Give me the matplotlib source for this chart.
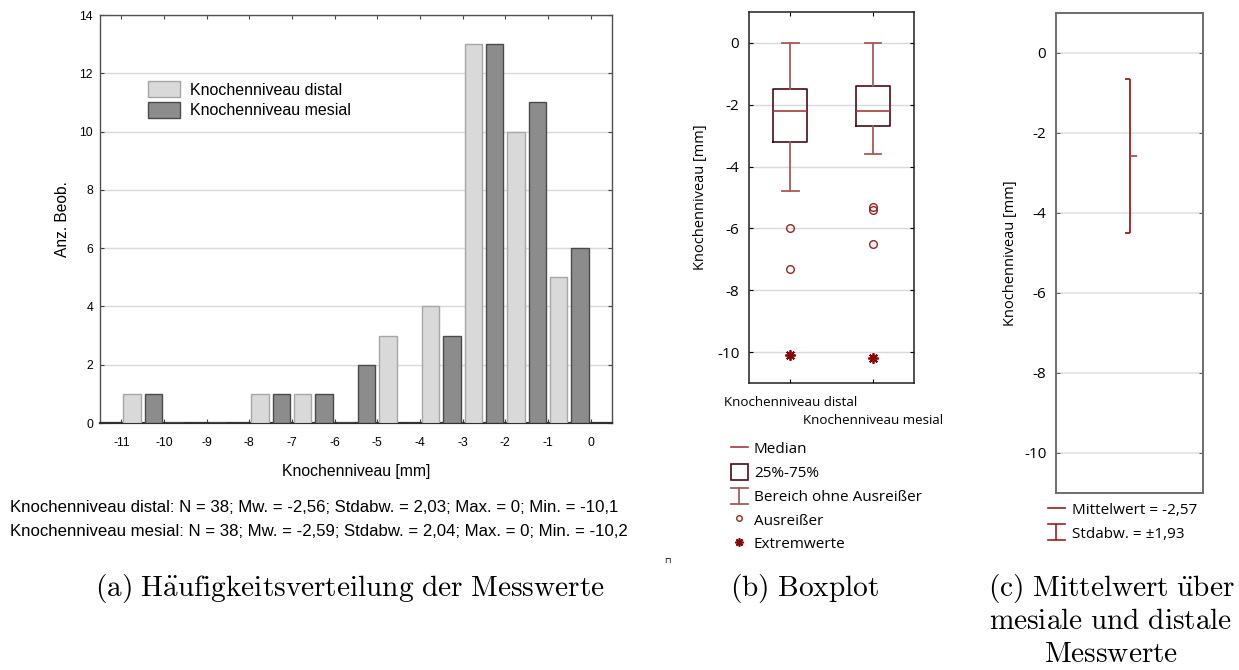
import numpy as np
import matplotlib
matplotlib.use("Agg")
import matplotlib.pyplot as plt
from matplotlib.lines import Line2D
from matplotlib.patches import Rectangle
from matplotlib.legend_handler import HandlerBase

plt.rcParams["axes.unicode_minus"] = False
plt.rcParams["mathtext.fontset"] = "cm"

# ---------------- data ----------------
# frequency distribution (bins [k, k+1) in mm)
bin_left = [-11, -10, -9, -8, -7, -6, -5, -4, -3, -2, -1]
count_distal = [1, 0, 0, 1, 1, 0, 3, 4, 13, 10, 5]
count_mesial = [1, 0, 0, 1, 1, 2, 0, 3, 13, 11, 6]
hist_xticks = [-11, -10, -9, -8, -7, -6, -5, -4, -3, -2, -1, 0]
hist_yticks = [0, 2, 4, 6, 8, 10, 12, 14]
series_names = ["Knochenniveau distal", "Knochenniveau mesial"]
summary_lines = [
    "Knochenniveau distal: N = 38; Mw. = -2,56; Stdabw. = 2,03; Max. = 0; Min. = -10,1",
    "Knochenniveau mesial: N = 38; Mw. = -2,59; Stdabw. = 2,04; Max. = 0; Min. = -10,2",
]

# boxplot summary
box_q1 = [-3.2, -2.7]
box_median = [-2.2, -2.2]
box_q3 = [-1.5, -1.4]
whisker_low = [-4.8, -3.6]
whisker_high = [0.0, 0.0]
outlier_values = [[-6.0, -7.3], [-5.3, -5.4, -6.5]]
extreme_values = [[-10.1], [-10.2]]
level_yticks = [0, -2, -4, -6, -8, -10]

# pooled mean and standard deviation
mean_all = -2.57
sd_all = 1.93

# ---------------- layout helpers ----------------
W, H = 1239, 670
fig = plt.figure(figsize=(W / 100, H / 100), dpi=100)


def px_rect(l, t, r, b):
    return [l / W, 1 - b / H, (r - l) / W, (b - t) / H]


SANS_A = "Liberation Sans"
SANS_B = "Open Sans"
RED_DARK = "#4b0b12"
RED_WHISK = "#a85a5a"
RED_MED = "#a03c3c"
RED_PT = "#9b2020"
RED_EXT = "#8b0000"


class WhiskerKey:
    def __init__(self, color, lw=1.2):
        self.color = color
        self.lw = lw


class WhiskerHandler(HandlerBase):
    def create_artists(self, legend, orig_handle, xdescent, ydescent,
                       width, height, fontsize, trans):
        x0, x1 = -xdescent, width - xdescent
        y0, y1 = -ydescent, height - ydescent
        xm = 0.5 * (x0 + x1)
        kw = dict(color=orig_handle.color, lw=orig_handle.lw, transform=trans)
        return [Line2D([x0, x1], [y1, y1], **kw),
                Line2D([x0, x1], [y0, y0], **kw),
                Line2D([xm, xm], [y0, y1], **kw)]


# ---------------- (a) histogram ----------------
axa = fig.add_axes(px_rect(100, 15, 612, 423))
left = np.array(bin_left, dtype=float)
axa.bar(left + 0.25, count_distal, width=0.4, color="#d9d9d9",
        edgecolor="#a6a6a6", linewidth=1.0, zorder=3, label=series_names[0])
axa.bar(left + 0.75, count_mesial, width=0.4, color="#8c8c8c",
        edgecolor="#4a4a4a", linewidth=1.0, zorder=3, label=series_names[1])
axa.set_xlim(-11.5, 0.5)
axa.set_ylim(0, 14)
axa.set_xticks(hist_xticks)
axa.set_xticklabels([str(v) for v in hist_xticks])
axa.set_yticks(hist_yticks)
axa.set_yticklabels([str(v) for v in hist_yticks])
axa.yaxis.grid(True, color="#d9d9d9", lw=1.0, zorder=0)
axa.set_axisbelow(True)
axa.tick_params(direction="in", top=True, right=True, length=3, width=0.8,
                color="#404040", labelsize=8.8)
axa.tick_params(axis="x", pad=10)
axa.tick_params(axis="y", pad=5)
for lab in axa.get_xticklabels() + axa.get_yticklabels():
    lab.set_family(SANS_A)
for side, sp in axa.spines.items():
    sp.set_color("#505050")
    sp.set_linewidth(1.0)
axa.spines["bottom"].set_color("#303030")
axa.spines["bottom"].set_linewidth(1.6)
axa.set_xlabel("Knochenniveau [mm]", family=SANS_A, fontsize=11.3)
axa.xaxis.set_label_coords(0.5, -(464 - 423) / 408)
axa.set_ylabel("Anz. Beob.", family=SANS_A, fontsize=11.2)
axa.yaxis.set_label_coords((70 - 100) / 512, 0.5)
axa.legend(loc="upper left", bbox_to_anchor=(148 / W, 1 - 81 / H),
           bbox_transform=fig.transFigure, frameon=False,
           prop=dict(family=SANS_A, size=11.5), handlelength=2.0,
           handleheight=1.2, handletextpad=0.6, labelspacing=0.25,
           borderpad=0, borderaxespad=0)
for i, line in enumerate(summary_lines):
    fig.text(10 / W, 1 - (508 + 23 * i) / H, line, family=SANS_A,
             fontsize=12.1, ha="left", va="center")

# ---------------- (b) boxplot ----------------
axb = fig.add_axes(px_rect(749, 12, 914, 383))
box_stats = []
for i in range(len(box_median)):
    box_stats.append(dict(med=box_median[i], q1=box_q1[i], q3=box_q3[i],
                          whislo=whisker_low[i], whishi=whisker_high[i],
                          fliers=[]))
positions = list(range(len(box_stats)))
axb.bxp(box_stats, positions=positions, widths=0.41, capwidths=0.2,
        showfliers=False,
        boxprops=dict(color=RED_DARK, lw=1.2),
        whiskerprops=dict(color=RED_WHISK, lw=1.3),
        capprops=dict(color=RED_WHISK, lw=1.3),
        medianprops=dict(color=RED_MED, lw=1.2))
for i, vals in enumerate(outlier_values):
    axb.plot([positions[i]] * len(vals), vals, linestyle="none", marker="o",
             mfc="none", mec=RED_PT, ms=5.5, mew=1.0, zorder=4)
for i, vals in enumerate(extreme_values):
    axb.plot([positions[i]] * len(vals), vals, linestyle="none",
             marker=(8, 2, 0), color=RED_EXT, ms=7.5, mew=1.3, zorder=4)
axb.set_xlim(-0.5, 1.5)
axb.set_ylim(-11, 1)
axb.set_yticks(level_yticks)
axb.set_yticklabels([str(v) for v in level_yticks])
axb.set_xticks(positions)
axb.set_xticklabels([])
axb.yaxis.grid(True, color="#d9d9d9", lw=1.0)
axb.set_axisbelow(True)
axb.tick_params(direction="in", top=True, right=True, length=3, width=0.8,
                labelsize=11, pad=7)
for lab in axb.get_yticklabels():
    lab.set_family(SANS_B)
for sp in axb.spines.values():
    sp.set_color("#202020")
    sp.set_linewidth(1.1)
axb.set_ylabel("Knochenniveau [mm]", family=SANS_B, fontsize=10.5)
axb.yaxis.set_label_coords((708 - 749) / 165, 0.5)
for i, name in enumerate(series_names):
    axb.text(positions[i], -(19 + 19 * i) / 371, name,
             transform=axb.get_xaxis_transform(), ha="center", va="center",
             family=SANS_B, fontsize=9.6)

b_handles = [
    Line2D([], [], color=RED_MED, lw=1.2),
    Rectangle((0, 0), 1, 1, facecolor="white", edgecolor=RED_DARK, lw=1.2),
    WhiskerKey(RED_WHISK, 1.3),
    Line2D([], [], linestyle="none", marker="o", mfc="none", mec=RED_PT,
           ms=4, mew=1.0),
    Line2D([], [], linestyle="none", marker=(8, 2, 0), color=RED_EXT,
           ms=6, mew=1.2),
]
b_labels = ["Median", "25%-75%", "Bereich ohne Ausreißer", "Ausreißer",
            "Extremwerte"]
fig.legend(b_handles, b_labels, loc="upper left",
           bbox_to_anchor=(731 / W, 1 - 440 / H),
           bbox_transform=fig.transFigure, frameon=False,
           prop=dict(family=SANS_B, size=11), handlelength=1.1,
           handleheight=1.25, handletextpad=0.4, labelspacing=0.43,
           borderpad=0, borderaxespad=0,
           handler_map={WhiskerKey: WhiskerHandler()})

# ---------------- (c) mean +/- sd ----------------
axc = fig.add_axes(px_rect(1056, 13, 1203, 493))
axc.vlines(0, mean_all - sd_all, mean_all + sd_all, color=RED_PT, lw=1.3)
axc.hlines([mean_all - sd_all, mean_all + sd_all], -0.055, 0,
           color=RED_PT, lw=1.3)
axc.hlines(mean_all, 0, 0.1, color="#b84a4a", lw=1.3)
axc.set_xlim(-1, 1)
axc.set_ylim(-11, 1)
axc.set_yticks(level_yticks)
axc.set_yticklabels([str(v) for v in level_yticks])
axc.set_xticks([])
axc.yaxis.grid(True, color="#e3e3e3", lw=1.2)
axc.set_axisbelow(True)
axc.tick_params(axis="y", direction="in", right=True, length=3, width=0.8,
                color="#606060", labelsize=11, pad=7)
for lab in axc.get_yticklabels():
    lab.set_family(SANS_B)
for sp in axc.spines.values():
    sp.set_color("#6e6e6e")
    sp.set_linewidth(1.4)
axc.set_ylabel("Knochenniveau [mm]", family=SANS_B, fontsize=10.5)
axc.yaxis.set_label_coords((1018 - 1056) / 147, 0.5)

c_handles = [Line2D([], [], color=RED_PT, lw=1.2), WhiskerKey(RED_PT, 1.2)]
c_labels = ["Mittelwert = %s" % f"{mean_all:.2f}".replace(".", ","),
            "Stdabw. = ±%s" % f"{sd_all:.2f}".replace(".", ",")]
fig.legend(c_handles, c_labels, loc="upper left",
           bbox_to_anchor=(1048 / W, 1 - 501 / H),
           bbox_transform=fig.transFigure, frameon=False,
           prop=dict(family=SANS_B, size=11), handlelength=1.1,
           handleheight=1.25, handletextpad=0.5, labelspacing=0.4,
           borderpad=0, borderaxespad=0,
           handler_map={WhiskerKey: WhiskerHandler()})

# ---------------- captions ----------------
cap_size = 21.1
fig.text(350 / W, 1 - 588 / H,
         r"$\mathrm{(a)\ H\ddot{a}ufigkeitsverteilung\ der\ Messwerte}$",
         ha="center", va="center", fontsize=cap_size)
fig.text(805 / W, 1 - 588 / H, r"$\mathrm{(b)\ Boxplot}$",
         ha="center", va="center", fontsize=cap_size)
for i, txt in enumerate([r"$\mathrm{(c)\ Mittelwert\ \ddot{u}ber}$",
                         r"$\mathrm{mesiale\ und\ distale}$",
                         r"$\mathrm{Messwerte}$"]):
    fig.text(1111 / W, 1 - (588 + 33 * i) / H, txt, ha="center",
             va="center", fontsize=cap_size)

# small stray glyph below the histogram notes
fig.text(667 / W, 1 - 560 / H, "\u2293", family="DejaVu Sans", fontsize=6,
         ha="center", va="center")

fig.savefig("out.png", dpi=100)
